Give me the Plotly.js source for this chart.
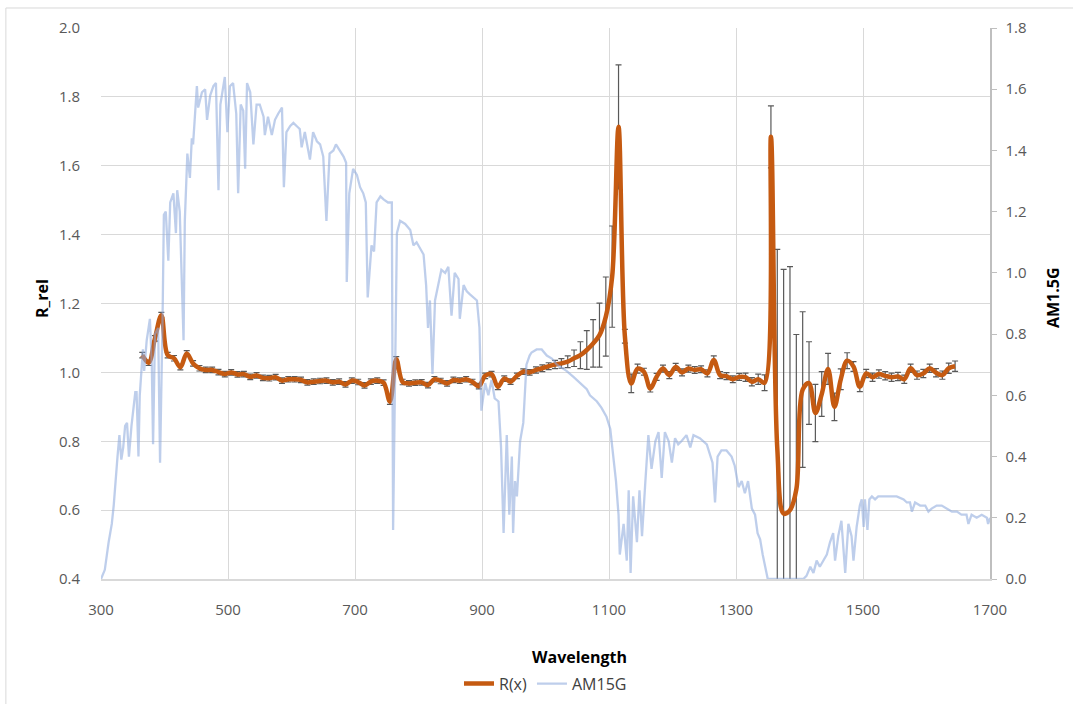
<!DOCTYPE html>
<html>
<head>
<meta charset="utf-8">
<script src="https://cdn.plot.ly/plotly-3.0.1.min.js"></script>
<style>html,body{margin:0;padding:0;background:#fff;}#chart{width:1073px;height:704px;}</style>
</head>
<body>
<div id="chart"></div>
<script>
// R(x) measured relative reflectance, every 10 nm
const rWavelength = [365,375,385,395,405,415,425,435,445,455,465,475,485,495,505,515,525,535,545,555,565,575,585,595,605,615,625,635,645,655,665,675,685,695,705,715,725,735,745,755,765,775,785,795,805,815,825,835,845,855,865,875,885,895,905,915,925,935,945,955,965,975,985,995,1005,1015,1025,1035,1045,1055,1065,1075,1085,1095,1105,1115,1125,1135,1145,1155,1165,1175,1185,1195,1205,1215,1225,1235,1245,1255,1265,1275,1285,1295,1305,1315,1325,1335,1345,1355,1365,1375,1385,1395,1405,1415,1425,1435,1445,1455,1465,1475,1485,1495,1505,1515,1525,1535,1545,1555,1565,1575,1585,1595,1605,1615,1625,1635,1645];
const rValue = [1.050,1.028,1.099,1.166,1.050,1.041,1.015,1.055,1.026,1.012,1.007,1.007,1.001,0.995,1.000,0.994,0.995,0.987,0.991,0.984,0.983,0.986,0.976,0.980,0.980,0.978,0.971,0.973,0.975,0.976,0.971,0.973,0.965,0.976,0.972,0.962,0.973,0.976,0.970,0.915,1.038,0.972,0.968,0.970,0.971,0.963,0.980,0.975,0.968,0.978,0.976,0.980,0.972,0.960,0.990,0.995,0.958,0.982,0.973,0.990,1.002,1.000,1.007,1.012,1.018,1.023,1.026,1.031,1.041,1.050,1.065,1.084,1.108,1.162,1.278,1.713,1.105,0.968,1.011,1.002,0.953,0.987,1.011,0.992,1.016,1.000,1.011,1.007,1.009,0.997,1.036,0.992,0.989,0.980,0.987,0.986,0.973,0.980,0.970,1.684,0.780,0.590,0.600,0.660,0.950,0.969,0.882,0.937,1.010,0.900,0.980,1.034,1.017,0.958,0.997,0.986,0.995,0.990,0.986,0.988,0.980,1.012,0.992,0.997,1.012,0.999,0.992,1.012,1.018];
const rError = [0.008,0.008,0.008,0.008,0.008,0.008,0.008,0.008,0.008,0.008,0.008,0.008,0.008,0.008,0.008,0.008,0.008,0.008,0.008,0.008,0.008,0.008,0.008,0.008,0.008,0.008,0.008,0.008,0.008,0.008,0.008,0.008,0.008,0.008,0.008,0.008,0.008,0.008,0.008,0.008,0.008,0.008,0.008,0.008,0.008,0.008,0.008,0.008,0.008,0.008,0.008,0.008,0.008,0.008,0.008,0.008,0.008,0.008,0.008,0.008,0.008,0.008,0.009,0.010,0.010,0.012,0.014,0.017,0.024,0.039,0.056,0.069,0.093,0.115,0.147,0.180,0.020,0.027,0.013,0.010,0.010,0.010,0.010,0.010,0.010,0.010,0.010,0.010,0.010,0.010,0.012,0.010,0.010,0.010,0.010,0.012,0.012,0.015,0.023,0.090,0.577,0.709,0.707,0.450,0.226,0.120,0.083,0.065,0.045,0.040,0.030,0.023,0.014,0.014,0.012,0.012,0.012,0.012,0.012,0.012,0.012,0.012,0.012,0.012,0.012,0.012,0.012,0.015,0.015];

// AM1.5G reference spectrum
const amWavelength = [300,306,312,317,320,324,326,329,332,335,338,341,344,348,351,354,356,359,361,366,368,372,377,380,382,385,390,393,397,399,402,406,409,414,418,420,424,430,432,436,440,443,445,448,451,453,459,464,467,472,477,481,485,488,492,495,499,503,508,513,516,520,524,527,530,535,540,545,550,556,558,563,569,574,579,585,588,592,598,603,608,613,616,621,629,634,640,645,650,655,660,666,670,676,682,686,687,691,697,703,708,713,717,720,724,726,730,734,740,745,752,758,760,763,766,771,779,787,792,797,802,808,812,815,818,822,826,831,836,842,847,852,857,863,865,871,876,881,886,892,896,899,905,910,915,920,926,930,934,939,943,947,949,952,955,960,965,970,975,978,986,994,1002,1010,1018,1026,1033,1044,1054,1065,1070,1081,1088,1096,1102,1107,1111,1115,1117,1123,1128,1131,1134,1138,1144,1148,1152,1157,1162,1167,1173,1178,1183,1188,1194,1199,1204,1209,1214,1222,1228,1233,1243,1254,1259,1263,1267,1271,1277,1285,1293,1298,1304,1309,1314,1319,1325,1330,1334,1338,1342,1346,1350,1360,1380,1400,1406,1411,1417,1422,1427,1432,1438,1443,1448,1453,1456,1461,1466,1472,1477,1482,1485,1490,1495,1498,1501,1503,1507,1510,1514,1519,1524,1532,1543,1553,1564,1569,1574,1577,1582,1590,1598,1603,1608,1616,1624,1632,1640,1648,1655,1663,1666,1671,1679,1687,1695,1697,1700];
const amValue = [0.0,0.03,0.12,0.18,0.24,0.33,0.40,0.47,0.39,0.43,0.50,0.51,0.40,0.50,0.56,0.61,0.61,0.40,0.60,0.75,0.68,0.78,0.85,0.70,0.44,0.80,0.82,0.38,0.86,1.19,1.20,1.04,1.23,1.26,1.13,1.27,1.20,0.78,1.17,1.39,1.31,1.44,1.42,1.50,1.61,1.54,1.59,1.60,1.50,1.58,1.61,1.62,1.27,1.55,1.60,1.64,1.46,1.61,1.62,1.52,1.26,1.55,1.53,1.34,1.62,1.59,1.42,1.55,1.55,1.51,1.45,1.51,1.45,1.50,1.52,1.54,1.28,1.46,1.48,1.49,1.48,1.47,1.41,1.46,1.37,1.46,1.43,1.42,1.38,1.17,1.39,1.40,1.42,1.40,1.38,1.36,0.97,1.26,1.34,1.32,1.28,1.26,1.23,0.92,1.04,1.09,1.07,1.23,1.25,1.24,1.23,1.23,0.16,0.60,1.13,1.17,1.16,1.14,1.09,1.10,1.08,1.06,0.96,0.82,0.91,0.67,0.91,0.96,1.01,1.00,1.02,0.86,1.00,0.98,0.85,0.96,0.94,0.93,0.92,0.91,0.82,0.55,0.64,0.60,0.65,0.59,0.58,0.43,0.15,0.47,0.21,0.40,0.15,0.32,0.27,0.45,0.51,0.70,0.73,0.74,0.75,0.75,0.73,0.72,0.70,0.69,0.68,0.66,0.64,0.62,0.60,0.58,0.56,0.53,0.49,0.40,0.32,0.21,0.08,0.18,0.06,0.29,0.02,0.27,0.12,0.29,0.14,0.31,0.47,0.36,0.45,0.48,0.33,0.48,0.45,0.38,0.46,0.44,0.45,0.47,0.43,0.47,0.46,0.44,0.41,0.38,0.25,0.40,0.42,0.42,0.40,0.37,0.30,0.32,0.28,0.32,0.23,0.21,0.15,0.13,0.08,0.04,0.0,0.0,0.0,0.0,0.0,0.01,0.04,0.02,0.06,0.04,0.06,0.08,0.12,0.15,0.06,0.14,0.19,0.02,0.18,0.14,0.06,0.17,0.24,0.26,0.17,0.26,0.16,0.26,0.27,0.26,0.27,0.27,0.27,0.27,0.26,0.25,0.25,0.22,0.25,0.24,0.24,0.22,0.23,0.24,0.24,0.23,0.22,0.22,0.21,0.21,0.18,0.21,0.20,0.21,0.20,0.18,0.20];

const xTicks = [300,500,700,900,1100,1300,1500,1700];

const FONT = '"Open Sans", "Noto Sans", sans-serif';

const traces = [
  {
    name: 'R(x)', x: rWavelength, y: rValue, type: 'scatter', mode: 'lines',
    line: {color: '#C55A11', width: 4.5, shape: 'spline', smoothing: 1},
    error_y: {type: 'data', array: rError, visible: true, color: '#595959', thickness: 1.2, width: 3},
    yaxis: 'y'
  },
  {
    name: 'AM15G', x: amWavelength, y: amValue, type: 'scatter', mode: 'lines',
    line: {color: 'rgba(143,170,220,0.58)', width: 2.3},
    yaxis: 'y2'
  }
];

const layout = {
  width: 1073, height: 704,
  margin: {l: 101, r: 83, t: 28, b: 125, autoexpand: false},
  paper_bgcolor: '#ffffff', plot_bgcolor: '#ffffff',
  font: {family: FONT, size: 15, color: '#595959'},
  showlegend: true,
  legend: {orientation: 'h', x: 0.5, xanchor: 'center', y: -0.19, yanchor: 'middle',
           font: {family: FONT, size: 16, color: '#404040'}, itemwidth: 30, tracegroupgap: 0},
  xaxis: {
    range: [300, 1700], tickvals: xTicks, ticktext: xTicks.map(String), automargin: false,
    showgrid: true, gridcolor: '#d9d9d9', gridwidth: 1,
    showline: true, linecolor: '#d9d9d9', linewidth: 1.5, zeroline: false,
    ticks: '', ticklabelstandoff: 16, tickfont: {family: FONT, size: 15, color: '#595959'}
  },
  yaxis: {
    range: [0.4, 2.0], dtick: 0.2, tick0: 0.4, tickformat: '.1f', automargin: false,
    showgrid: true, gridcolor: '#d9d9d9', gridwidth: 1, zeroline: false,
    showline: false, ticks: '', ticklabelstandoff: 20,
    tickfont: {family: FONT, size: 15, color: '#595959'}
  },
  yaxis2: {
    range: [0, 1.8], dtick: 0.2, tick0: 0, tickformat: '.1f', automargin: false,
    overlaying: 'y', side: 'right', showgrid: false, zeroline: false,
    showline: true, linecolor: '#bfbfbf', linewidth: 1.5,
    ticks: 'outside', ticklen: 5, tickcolor: '#bfbfbf', ticklabelstandoff: 6,
    tickfont: {family: FONT, size: 15, color: '#595959'}
  },
  annotations: [
    {text: '<b>Wavelength</b>', xref: 'paper', yref: 'paper', x: 0.5377, y: -0.142,
     xanchor: 'center', yanchor: 'middle', showarrow: false,
     font: {family: FONT, size: 16, color: '#000000'}},
    {text: '<b>R_rel</b>', xref: 'paper', yref: 'paper', x: -0.0664, y: 0.51, textangle: -90,
     xanchor: 'center', yanchor: 'middle', showarrow: false,
     font: {family: FONT, size: 16, color: '#000000'}},
    {text: '<b>AM1.5G</b>', xref: 'paper', yref: 'paper', x: 1.0709, y: 0.51, textangle: -90,
     xanchor: 'center', yanchor: 'middle', showarrow: false,
     font: {family: FONT, size: 16, color: '#000000'}}
  ],
  shapes: [
    {type: 'rect', xref: 'paper', yref: 'paper', x0: -0.107, x1: 1.2, y0: -0.5, y1: 1.0363,
     line: {color: '#d9d9d9', width: 1}, fillcolor: 'rgba(0,0,0,0)', layer: 'below'}
  ]
};

Plotly.newPlot('chart', traces, layout, {staticPlot: true, displayModeBar: false});
</script>
</body>
</html>
